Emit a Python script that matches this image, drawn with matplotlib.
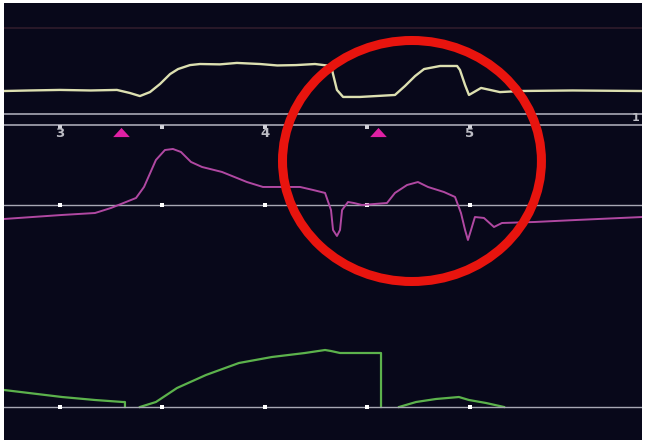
import numpy as np
import matplotlib.pyplot as plt
from matplotlib.patches import Ellipse

# airway pressure trace (cmH2O)
t_paw = [2.727, 2.85, 3.000, 3.15, 3.278, 3.341, 3.390, 3.439, 3.488, 3.537,
         3.576, 3.634, 3.683, 3.78, 3.863, 3.976, 4.06, 4.151, 4.244, 4.322,
         4.327, 4.351, 4.381, 4.463, 4.634, 4.683, 4.732, 4.776, 4.854, 4.937,
         4.951, 4.976, 4.995, 5.054, 5.098, 5.146, 5.244, 5.5, 5.839]
paw = [5.0, 5.3, 5.6, 5.3, 5.6, 3.9, 2.2, 4.4, 8.9, 14.4,
       17.2, 19.4, 20.0, 19.8, 20.6, 20.0, 19.2, 19.4, 20.0, 18.9,
       16.7, 5.6, 1.7, 1.7, 2.8, 7.8, 13.3, 17.2, 18.9, 18.9,
       16.7, 8.3, 2.8, 6.7, 5.6, 4.4, 5.0, 5.3, 5.0]

# flow trace (L/min)
t_flow = [2.727, 3.010, 3.171, 3.249, 3.371, 3.410, 3.468, 3.512, 3.551, 3.590,
          3.639, 3.693, 3.790, 3.912, 3.990, 4.171, 4.234, 4.293, 4.322, 4.332,
          4.351, 4.366, 4.376, 4.405, 4.434, 4.473, 4.595, 4.634, 4.693, 4.746,
          4.795, 4.873, 4.927, 4.956, 4.976, 4.990, 5.005, 5.024, 5.068, 5.117,
          5.156, 5.317, 5.517, 5.839]
flow = [-15.0, -10.7, -8.6, -3.2, 7.5, 19.3, 48.2, 58.9, 60.0, 56.8,
        46.1, 40.7, 35.4, 24.6, 19.3, 19.3, 16.1, 12.9, -5.4, -26.8,
        -33.2, -26.8, -5.4, 3.2, 2.1, 0.0, 2.1, 12.9, 21.4, 24.6,
        19.3, 13.9, 8.6, -8.6, -26.8, -37.5, -26.8, -12.9, -13.9, -23.6,
        -19.3, -18.2, -16.1, -12.9]

# volume trace (mL), nan where the pen is lifted
t_vol = [2.727, 3.010, 3.171, 3.307, 3.317, 3.317, np.nan,
         3.390, 3.468, 3.571, 3.712, 3.873, 4.034, 4.195, 4.293, 4.322, 4.366,
         4.566, 4.566, np.nan,
         4.654, 4.737, 4.834, 4.946, 4.995, 5.078, 5.166]
vol = [89.5, 52.6, 36.8, 26.3, 26.3, 0.0, np.nan,
       0.0, 26.3, 100.0, 168.4, 231.6, 263.2, 284.2, 300.0, 294.7, 284.2,
       284.2, 0.0, np.nan,
       0.0, 26.3, 42.1, 52.6, 36.8, 21.1, 0.0]

sec_labels = [3, 4, 5]
half_marks = [3.0, 3.5, 4.0, 4.5, 5.0]
trigger_t = [3.298, 4.551]

bg = '#08081a'
grey = '#a8a8b4'
t_lim = (2.727, 5.839)

fig = plt.figure(figsize=(6.45, 4.4), dpi=100, facecolor='white')
box = [4 / 645, 0, 638 / 645, 437 / 440]

# base layer: screen rows on y (top = 3, bottom = 440)
ax = fig.add_axes(box)
ax.set_xlim(t_lim)
ax.set_ylim(440, 3)
ax.axis('off')
ax.add_patch(plt.Rectangle((0, 0), 1, 1, transform=ax.transAxes, color=bg, zorder=0))

ax.axhline(28, color='#2c1a2a', lw=1.3)
ax.axhline(114, color=grey, lw=1.2)
ax.axhline(125, color=grey, lw=1.2)
ax.plot(half_marks, [127] * len(half_marks), 's', color='#d0d0d8', ms=2.2, mew=0)
for s in sec_labels:
    ax.text(s, 134, str(s), color='#bcbcc4', fontsize=9.5, fontweight='bold',
            ha='center', va='center')
ax.text(5.81, 118, '1', color='#bcbcc4', fontsize=8, fontweight='bold',
        ha='center', va='center')
tri = [(-1, -0.55), (1, -0.55), (0, 0.55)]
ax.plot(trigger_t, [132] * len(trigger_t), marker=tri, ls='none',
        color='#e020a4', ms=12, mew=0)

# waveform layers share the time axis, each with its own scale
def layer(ylim):
    a = fig.add_axes(box)
    a.set_xlim(t_lim)
    a.set_ylim(ylim)
    a.axis('off')
    a.patch.set_alpha(0)
    return a

ax_p = layer((-188.9, 53.9))
ax_p.plot(t_paw, paw, color='#dcdfb0', lw=1.7)

ax_f = layer((-251.8, 216.4))
ax_f.axhline(0, color=grey, lw=1.0)
ax_f.plot(half_marks, [0] * len(half_marks), 's', color='white', ms=2.6, mew=0)
ax_f.plot(t_flow, flow, color='#b048a2', lw=1.4)

ax_v = layer((-173.7, 2126.3))
ax_v.plot(t_vol, vol, color='#5cb24c', lw=1.6)
ax_v.axhline(0, color=grey, lw=1.0)
ax_v.plot(half_marks, [0] * len(half_marks), 's', color='white', ms=2.6, mew=0)

# highlight ring
top = fig.add_axes(box)
top.set_xlim(t_lim)
top.set_ylim(440, 3)
top.axis('off')
top.patch.set_alpha(0)
top.add_patch(Ellipse((4.717, 161), 1.263, 241, fill=False,
                      edgecolor='#e8140e', lw=6.5))

fig.savefig('out.png', dpi=100, facecolor='white')
